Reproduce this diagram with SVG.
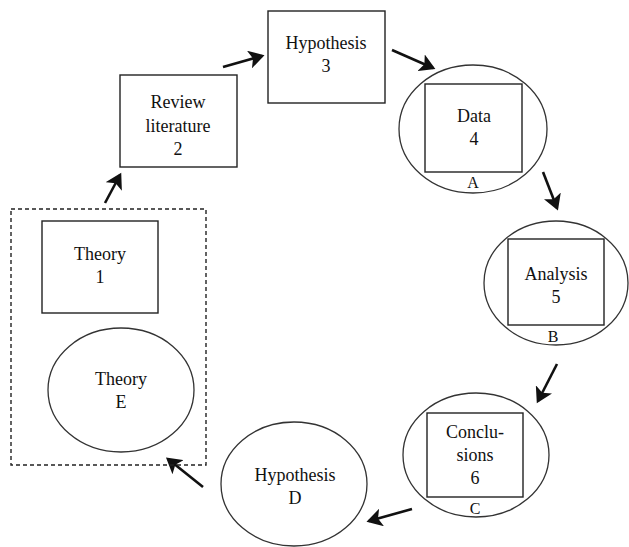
<svg xmlns="http://www.w3.org/2000/svg" width="629" height="547" viewBox="0 0 629 547">
<style>
.box{fill:none;stroke:#222;stroke-width:1.4}
.ell{fill:none;stroke:#333;stroke-width:1.3}
.dash{fill:none;stroke:#222;stroke-width:1.4;stroke-dasharray:4,3}
.t{font-family:"Liberation Serif",serif;font-size:18px;fill:#111;text-anchor:middle}
.s{font-size:16px}
.arr{stroke:#111;stroke-width:2.6;fill:none;marker-end:url(#ah)}
</style>
<defs>
<marker id="ah" markerWidth="7" markerHeight="7" refX="5" refY="3.5" orient="auto" markerUnits="strokeWidth">
<path d="M0,0 L6,3.5 L0,7 L1.4,3.5 Z" fill="#111"/>
</marker>
</defs>
<rect width="629" height="547" fill="#fff"/>
<g id="connectors">
<line class="arr" x1="105" y1="203" x2="120" y2="175"/>
<line class="arr" x1="223" y1="67" x2="262" y2="56"/>
<line class="arr" x1="392" y1="50" x2="433" y2="68"/>
<line class="arr" x1="543" y1="172" x2="557" y2="208"/>
<line class="arr" x1="557" y1="364" x2="538" y2="401"/>
<line class="arr" x1="412" y1="509" x2="369" y2="521"/>
<line class="arr" x1="203" y1="487" x2="168" y2="459"/>
</g>
<g id="group-theory">
<rect class="dash" x="11" y="209" width="195" height="256"/>
</g>
<g id="theory1">
<rect class="box" x="42" y="221" width="116" height="92"/>
<text class="t" x="100" y="260">Theory</text>
<text class="t" x="100" y="283">1</text>
</g>
<g id="theoryE">
<ellipse class="ell" cx="121" cy="390" rx="73" ry="62"/>
<text class="t" x="121" y="385">Theory</text>
<text class="t" x="121" y="408">E</text>
</g>
<g id="review">
<rect class="box" x="120" y="75" width="117" height="92"/>
<text class="t" x="178" y="108">Review</text>
<text class="t" x="178" y="132">literature</text>
<text class="t" x="178" y="155">2</text>
</g>
<g id="hypothesis3">
<rect class="box" x="268" y="11" width="117" height="92"/>
<text class="t" x="326" y="49">Hypothesis</text>
<text class="t" x="326" y="72">3</text>
</g>
<g id="data">
<ellipse class="ell" cx="473" cy="129" rx="74" ry="64"/>
<rect class="box" x="425" y="84" width="97" height="88"/>
<text class="t" x="474" y="122">Data</text>
<text class="t" x="474" y="145">4</text>
<text class="t s" x="473" y="188">A</text>
</g>
<g id="analysis">
<ellipse class="ell" cx="556" cy="283" rx="72" ry="62"/>
<rect class="box" x="508" y="239" width="96" height="86"/>
<text class="t" x="556" y="280">Analysis</text>
<text class="t" x="556" y="303">5</text>
<text class="t s" x="553" y="342">B</text>
</g>
<g id="conclusions">
<ellipse class="ell" cx="476" cy="455" rx="73" ry="62"/>
<rect class="box" x="427" y="413" width="96" height="84"/>
<text class="t" x="475" y="438">Conclu-</text>
<text class="t" x="475" y="461">sions</text>
<text class="t" x="475" y="484">6</text>
<text class="t s" x="475" y="514">C</text>
</g>
<g id="hypothesisD">
<ellipse class="ell" cx="294" cy="484" rx="73" ry="62"/>
<text class="t" x="295" y="481">Hypothesis</text>
<text class="t" x="295" y="504">D</text>
</g>
</svg>
